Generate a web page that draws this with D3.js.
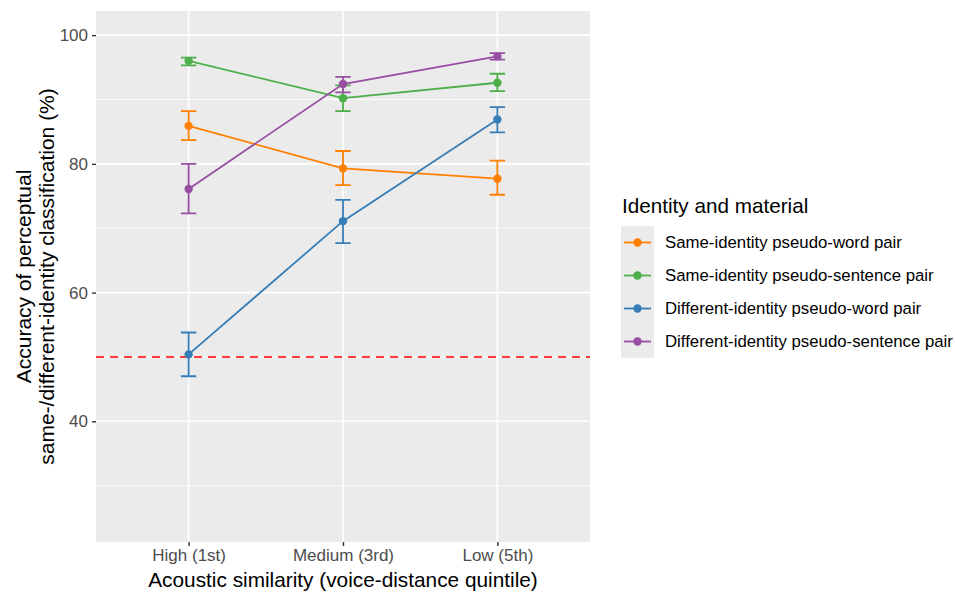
<!DOCTYPE html>
<html>
<head>
<meta charset="utf-8">
<script src="https://cdn.jsdelivr.net/npm/d3@7"></script>
<style>
  body { margin: 0; background: #fff; }
  text { font-family: "Liberation Sans", Arial, Helvetica, sans-serif; }
</style>
</head>
<body>
<div class="svg-container"></div>
<script>
// data
var categories = ["High (1st)", "Medium (3rd)", "Low (5th)"];
var seriesNames = [
  "Same-identity pseudo-word pair",
  "Same-identity pseudo-sentence pair",
  "Different-identity pseudo-word pair",
  "Different-identity pseudo-sentence pair"
];
var seriesColors = ["#FF7F00", "#4DAF4A", "#377EB8", "#984EA3"];

var meanSameWord = [85.9, 79.3, 77.7];
var lowSameWord  = [83.7, 76.7, 75.2];
var highSameWord = [88.2, 82.0, 80.5];

var meanSameSent = [96.0, 90.2, 92.6];
var lowSameSent  = [95.3, 88.2, 91.3];
var highSameSent = [96.5, 92.2, 94.0];

var meanDiffWord = [50.4, 71.1, 86.9];
var lowDiffWord  = [47.0, 67.7, 84.9];
var highDiffWord = [53.8, 74.4, 88.8];

var meanDiffSent = [76.1, 92.4, 96.7];
var lowDiffSent  = [72.3, 91.1, 96.2];
var highDiffSent = [80.0, 93.5, 97.2];

var yTicks = [40, 60, 80, 100];
var yMinor = [30, 50, 70, 90];
var chanceLevel = 50;

var series = [
  { mean: meanSameWord, lo: lowSameWord, hi: highSameWord },
  { mean: meanSameSent, lo: lowSameSent, hi: highSameSent },
  { mean: meanDiffWord, lo: lowDiffWord, hi: highDiffWord },
  { mean: meanDiffSent, lo: lowDiffSent, hi: highDiffSent }
].map(function(s, i) {
  return {
    name: seriesNames[i],
    color: seriesColors[i],
    values: categories.map(function(c, j) {
      return { cat: c, mean: s.mean[j], lo: s.lo[j], hi: s.hi[j] };
    })
  };
});

var width = 955, height = 593;
var panel = { left: 96, top: 11, right: 590, bottom: 542 };

var svg = d3.select(".svg-container").append("svg")
  .attr("width", width)
  .attr("height", height);

// discrete x with ggplot-like 0.6 expansion
var x = d3.scalePoint()
  .domain(categories)
  .range([panel.left, panel.right])
  .padding(0.6);

var y = d3.scaleLinear()
  .domain([21.25, 103.75])
  .range([panel.bottom, panel.top]);

svg.append("rect")
  .attr("x", panel.left)
  .attr("y", panel.top)
  .attr("width", panel.right - panel.left)
  .attr("height", panel.bottom - panel.top)
  .attr("fill", "#EBEBEB");

var grid = svg.append("g");
grid.selectAll(".minor").data(yMinor).enter().append("line")
  .attr("x1", panel.left).attr("x2", panel.right)
  .attr("y1", function(d) { return y(d); })
  .attr("y2", function(d) { return y(d); })
  .attr("stroke", "#fff").attr("stroke-width", 0.8);
grid.selectAll(".major").data(yTicks).enter().append("line")
  .attr("x1", panel.left).attr("x2", panel.right)
  .attr("y1", function(d) { return y(d); })
  .attr("y2", function(d) { return y(d); })
  .attr("stroke", "#fff").attr("stroke-width", 1.6);
grid.selectAll(".vmajor").data(categories).enter().append("line")
  .attr("y1", panel.top).attr("y2", panel.bottom)
  .attr("x1", function(d) { return x(d); })
  .attr("x2", function(d) { return x(d); })
  .attr("stroke", "#fff").attr("stroke-width", 1.6);

// axes
var yAxis = svg.append("g")
  .attr("transform", "translate(" + panel.left + ",0)")
  .call(d3.axisLeft(y).tickValues(yTicks).tickSize(4).tickPadding(4));
var xAxis = svg.append("g")
  .attr("transform", "translate(0," + panel.bottom + ")")
  .call(d3.axisBottom(x).tickSize(4).tickPadding(3));
[yAxis, xAxis].forEach(function(a) {
  a.select(".domain").remove();
  a.selectAll(".tick line").attr("stroke", "#333").attr("stroke-width", 1.4);
  a.selectAll(".tick text")
    .attr("fill", "#4D4D4D")
    .style("font-size", "17px")
    .style("font-family", "'Liberation Sans', Arial, sans-serif");
});

// chance line
svg.append("line")
  .attr("x1", panel.left).attr("x2", panel.right)
  .attr("y1", y(chanceLevel)).attr("y2", y(chanceLevel))
  .attr("stroke", "#FF0000")
  .attr("stroke-width", 1.6)
  .attr("stroke-dasharray", "8,6");

var line = d3.line()
  .x(function(d) { return x(d.cat); })
  .y(function(d) { return y(d.mean); });

var marks = svg.append("g");
marks.selectAll(".series-line").data(series).enter().append("path")
  .attr("d", function(d) { return line(d.values); })
  .attr("fill", "none")
  .attr("stroke", function(d) { return d.color; })
  .attr("stroke-width", 1.8);

var capHalf = 7.7;
var errGroups = marks.selectAll(".err").data(series).enter().append("g")
  .attr("stroke", function(d) { return d.color; })
  .attr("stroke-width", 1.8)
  .attr("fill", "none");
errGroups.selectAll("path").data(function(d) { return d.values; }).enter().append("path")
  .attr("d", function(d) {
    var cx = x(d.cat), t = y(d.hi), b = y(d.lo);
    return "M" + (cx - capHalf) + "," + t + "H" + (cx + capHalf) +
      "M" + cx + "," + t + "V" + b +
      "M" + (cx - capHalf) + "," + b + "H" + (cx + capHalf);
  });

var ptGroups = marks.selectAll(".pts").data(series).enter().append("g")
  .attr("fill", function(d) { return d.color; });
ptGroups.selectAll("circle").data(function(d) { return d.values; }).enter().append("circle")
  .attr("cx", function(d) { return x(d.cat); })
  .attr("cy", function(d) { return y(d.mean); })
  .attr("r", 4.2);

// axis titles
svg.append("text")
  .attr("x", (panel.left + panel.right) / 2)
  .attr("y", 587)
  .attr("text-anchor", "middle")
  .style("font-size", "20.8px")
  .attr("fill", "#000")
  .text("Acoustic similarity (voice-distance quintile)");

var yMid = (panel.top + panel.bottom) / 2;
var yTitle = svg.append("text")
  .attr("transform", "translate(0," + yMid + ") rotate(-90)")
  .attr("text-anchor", "middle")
  .style("font-size", "21px")
  .attr("fill", "#000");
yTitle.append("tspan").attr("x", 0).attr("y", 31).text("Accuracy of perceptual");
yTitle.append("tspan").attr("x", 0).attr("y", 54).text("same-/different-identity classification (%)");

// legend
var legend = svg.append("g");
legend.append("text")
  .attr("x", 622).attr("y", 213)
  .style("font-size", "20.7px")
  .attr("fill", "#000")
  .text("Identity and material");

var keyTop = 226, keyH = 33;
legend.append("rect")
  .attr("x", 621).attr("y", keyTop)
  .attr("width", 33).attr("height", keyH * series.length)
  .attr("fill", "#EBEBEB");

var items = legend.selectAll(".item").data(series).enter().append("g")
  .attr("transform", function(d, i) { return "translate(0," + (keyTop + keyH * i + keyH / 2) + ")"; });
items.append("line")
  .attr("x1", 624).attr("x2", 651)
  .attr("stroke", function(d) { return d.color; })
  .attr("stroke-width", 1.8);
items.append("circle")
  .attr("cx", 637.5).attr("r", 4.2)
  .attr("fill", function(d) { return d.color; });
items.append("text")
  .attr("x", 665).attr("dy", "0.35em")
  .style("font-size", "16.8px")
  .attr("fill", "#000")
  .text(function(d) { return d.name; });
</script>
</body>
</html>
